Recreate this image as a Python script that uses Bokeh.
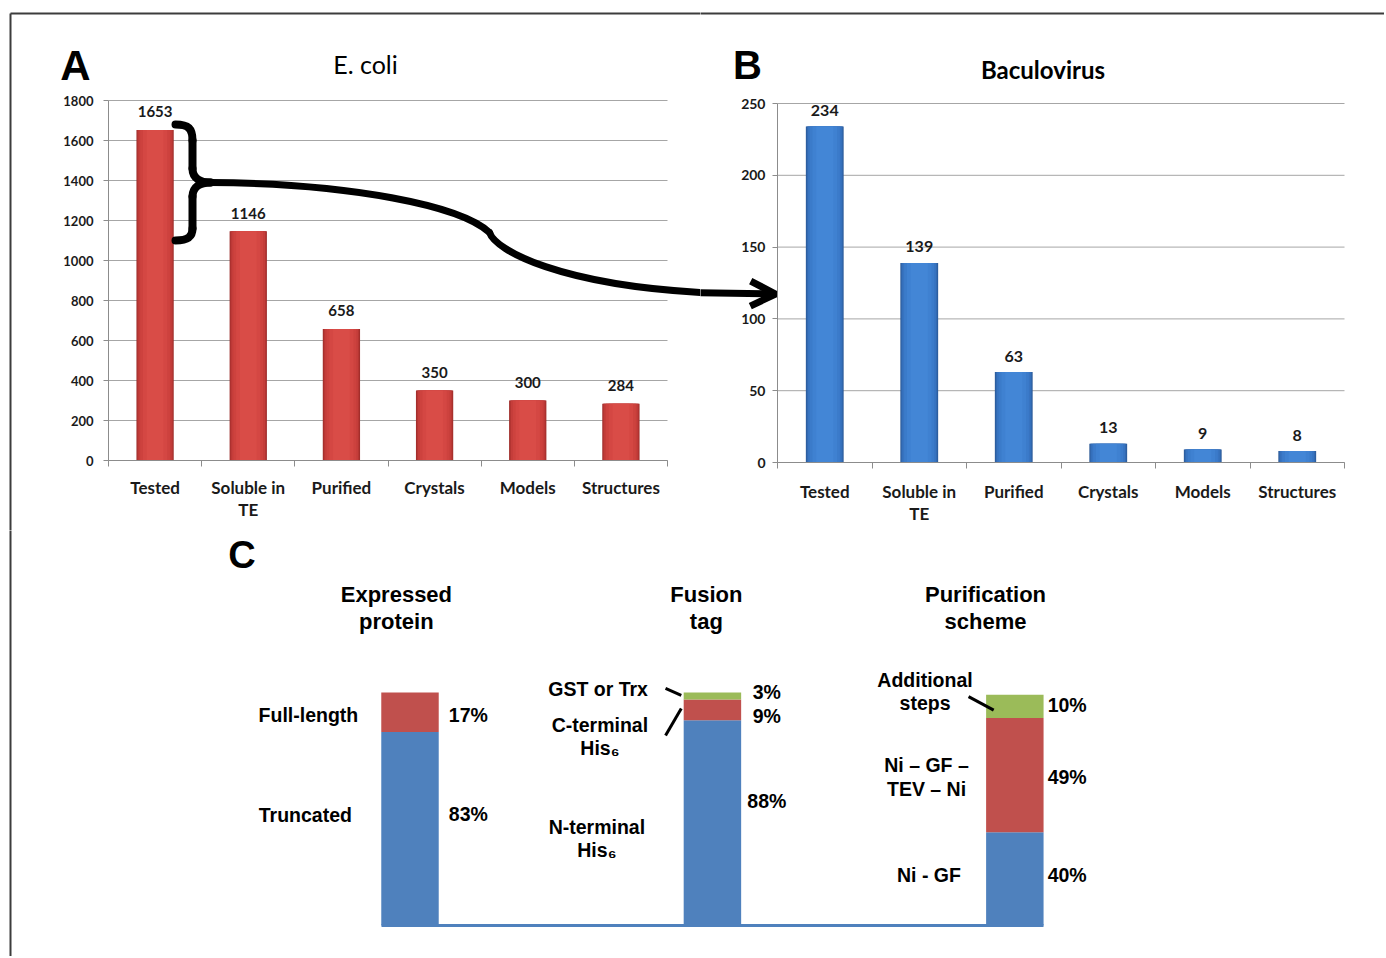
from bokeh.plotting import figure
from bokeh.models import Range1d, FixedTicker, Label, Arrow, OpenHead, ColumnDataSource
from bokeh.layouts import row, column
from bokeh.embed import file_html
from bokeh.resources import INLINE
from bokeh.core.properties import value

# ---------------- data ----------------
categories = ["Tested", "Soluble in\nTE", "Purified", "Crystals", "Models", "Structures"]
ecoli_counts = [1653, 1146, 658, 350, 300, 284]
baculo_counts = [234, 139, 63, 13, 9, 8]
ecoli_yticks = [0, 200, 400, 600, 800, 1000, 1200, 1400, 1600, 1800]
baculo_yticks = [0, 50, 100, 150, 200, 250]

c_panels = ["Expressed\nprotein", "Fusion\ntag", "Purification\nscheme"]
c_bottom = [83, 88, 40]   # blue segment
c_middle = [17, 9, 49]    # red segment
c_top = [0, 3, 10]        # green segment
c_pct_panel = [0, 0, 1, 1, 1, 2, 2, 2]
c_pct_values = [17, 83, 3, 9, 88, 10, 49, 40]
c_pct_y = [90.5, 48.0, 100.0, 89.7, 53.6, 94.8, 63.9, 21.5]
c_pct_dx = [0.193, 0.180, 0.173]          # label offset right of each bar
c_seg_names = ["Full-length", "Truncated", "GST or Trx", "C-terminal\nHis\u2086",
               "N-terminal\nHis\u2086", "Additional\nsteps", "Ni \u2013 GF \u2013\nTEV \u2013 Ni", "Ni - GF"]
c_seg_x = [-0.336, -0.346, 0.622, 0.628, 0.618, 1.703, 1.708, 1.716]
c_seg_y = [90.5, 47.2, 101.3, 81.1, 37.3, 100.4, 63.7, 21.5]
c_heading_x = [-0.045, 0.980, 1.903]
c_heading_y = [136.2, 136.2, 136.2]
c_leader_x0 = [0.845, 0.897, 1.847]
c_leader_y0 = [101.7, 93.1, 98.2]
c_leader_x1 = [0.897, 0.845, 1.930]
c_leader_y1 = [98.7, 81.5, 92.4]

BLUE, RED, GREEN = "#4F81BD", "#C0504D", "#9BBB59"
AXIS_GRAY = "#8c8c8c"
GRID_GRAY = "#a6a6a6"
TXT = "#1a1a1a"
FRAME_COL = "#3c3c3c"
RED_SHADES = ["#9c2c2a", "#b33532", "#c43d3a", "#cd423e", "#d44743", "#d94c47"]
BLUE_SHADES = ["#2a5896", "#3167ad", "#3773c0", "#3b7bca", "#3f81d1", "#4386d6"]
SHADE_WIDTHS = [0.40, 0.385, 0.36, 0.32, 0.26, 0.18]


class Geo:
    """Pixel geometry of one canvas: canvas box on the page and data->pixel mapping."""

    def __init__(self, cl, ct, cw, ch, x0, xpx, y0, ypx):
        self.cl, self.ct, self.cw, self.ch = cl, ct, cw, ch
        self.x0, self.xpx, self.y0, self.ypx = x0, xpx, y0, ypx

    def x(self, sx):
        return (sx - self.x0) / self.xpx

    def y(self, sy):
        return (self.y0 - sy) / self.ypx

    def fig(self):
        p = figure(title=None, frame_width=self.cw, frame_height=self.ch, min_border=0,
                   x_range=Range1d(self.x(self.cl), self.x(self.cl + self.cw)),
                   y_range=Range1d(self.y(self.ct + self.ch), self.y(self.ct)),
                   output_backend="svg", toolbar_location=None,
                   outline_line_color=None, background_fill_color="white",
                   border_fill_color="white")
        p.grid.visible = False
        return p


def bar_panel(g, counts, yticks, shades, tick_size, cat_size, val_size, val_off,
              cat_standoff, y_standoff):
    n = len(categories)
    pos = [i + 0.5 for i in range(n)]
    p = g.fig()
    xa = p.xaxis[0]
    xa.fixed_location = 0
    xa.bounds = (0, n)
    xa.ticker = FixedTicker(ticks=pos, minor_ticks=list(range(n + 1)))
    ov = {}
    for pp, c in zip(pos, categories):
        ov[pp] = c
        ov[str(pp)] = c
    xa.major_label_overrides = ov
    xa.major_tick_line_color = None
    xa.major_tick_out = 0
    xa.major_tick_in = 0
    xa.minor_tick_out = 6
    xa.minor_tick_in = 0
    xa.minor_tick_line_color = AXIS_GRAY
    xa.axis_line_color = AXIS_GRAY
    xa.major_label_standoff = cat_standoff
    xa.major_label_text_font = "Lato"
    xa.major_label_text_font_style = "bold"
    xa.major_label_text_font_size = cat_size
    xa.major_label_text_color = TXT
    xa.major_label_text_line_height = 1.05

    ya = p.yaxis[0]
    ya.fixed_location = 0
    ya.bounds = (0, yticks[-1])
    ya.ticker = FixedTicker(ticks=yticks)
    ya.major_tick_out = 5
    ya.major_tick_in = 0
    ya.minor_tick_line_color = None
    ya.major_tick_line_color = AXIS_GRAY
    ya.axis_line_color = AXIS_GRAY
    ya.major_label_standoff = y_standoff
    ya.major_label_text_font = "Lato"
    ya.major_label_text_font_style = "bold"
    ya.major_label_text_font_size = tick_size
    ya.major_label_text_color = TXT

    # horizontal gridlines across the plotting area only
    p.segment(x0=[0] * len(yticks), x1=[n] * len(yticks), y0=yticks, y1=yticks,
              line_color=GRID_GRAY, line_width=1, level="underlay")

    for w, col in zip(SHADE_WIDTHS, shades):
        p.vbar(x=pos, top=counts, width=w, fill_color=col, line_color=None)
    p.text(x=pos, y=counts, text=[str(c) for c in counts], text_align="center",
           text_baseline="middle", y_offset=-val_off, text_font=value("Lato"),
           text_font_style="bold", text_font_size=val_size, text_color=TXT)
    return p


def letter(p, g, sx, sy, txt, size, font="Liberation Sans", style="bold"):
    p.add_layout(Label(x=g.x(sx), y=g.y(sy), text=txt, text_align="center",
                       text_baseline="middle", text_font=font, text_font_style=style,
                       text_font_size=size, text_color="black"))


# ---------------- panel A ----------------
gA = Geo(0, 0, 700, 530, 108, 559 / len(categories), 460, 360 / ecoli_yticks[-1])
pA = bar_panel(gA, ecoli_counts, ecoli_yticks, RED_SHADES, "13px", "17px",
               "15px", 18, 10, 10)
letter(pA, gA, 75, 65, "A", "42px")
letter(pA, gA, 365, 63.5, "E. coli", "25px", font="Lato", style="normal")

# bracket + curved connector (decoration), control points in page pixels
bz = [
    (175, 124, 188, 124, 192, 128, 192, 140),
    (192, 168, 192, 178, 200, 182, 210, 182),
    (210, 182, 200, 182, 192, 186, 192, 196),
    (192, 228, 192, 236, 188, 240, 175, 240),
]
cz = [
    (210, 182, 350, 183, 460, 205, 489, 232),
    (489, 232, 495, 250, 560, 285, 706, 292.3),
]


def draw_bez(p, g, pieces, lw):
    p.bezier(x0=[g.x(b[0]) for b in pieces], y0=[g.y(b[1]) for b in pieces],
             cx0=[g.x(b[2]) for b in pieces], cy0=[g.y(b[3]) for b in pieces],
             cx1=[g.x(b[4]) for b in pieces], cy1=[g.y(b[5]) for b in pieces],
             x1=[g.x(b[6]) for b in pieces], y1=[g.y(b[7]) for b in pieces],
             line_color="black", line_width=lw, line_cap="round")


draw_bez(pA, gA, bz, 8)
pA.segment(x0=[gA.x(192)] * 2, y0=[gA.y(140), gA.y(196)],
           x1=[gA.x(192)] * 2, y1=[gA.y(168), gA.y(228)],
           line_color="black", line_width=8, line_cap="round")
draw_bez(pA, gA, cz, 7)

# ---------------- panel B ----------------
gB = Geo(700, 0, 684, 530, 777, 567 / len(categories), 462, 359 / baculo_yticks[-1])
pB = bar_panel(gB, baculo_counts, baculo_yticks, BLUE_SHADES, "14px", "17px",
               "16px", 16, 12, 7)
letter(pB, gB, 747, 64, "B", "40px")
letter(pB, gB, 1042.5, 68.7, "Baculovirus", "24px", font="Lato", style="bold")
pB.add_layout(Arrow(end=OpenHead(size=25, line_width=7, line_color="black"),
                    x_start=gB.x(695), y_start=gB.y(292.2), x_end=gB.x(775), y_end=gB.y(293.5),
                    line_color="black", line_width=7))

# ---------------- panel C ----------------
gC = Geo(0, 530, 1384, 426, 409.5, 302.42, 925, 2.3311)
pC = gC.fig()
pC.yaxis.visible = False
xc = pC.xaxis[0]
xc.fixed_location = 0
xc.ticker = FixedTicker(ticks=[])
xc.axis_line_color = BLUE
xc.axis_line_width = 3
bar_w = 0.19
xc.bounds = (-bar_w / 2, len(c_panels) - 1 + bar_w / 2)
xc.major_tick_line_color = None
xc.minor_tick_line_color = None
xc.major_label_text_font_size = "0px"

srcC = ColumnDataSource(dict(x=list(range(len(c_panels))), bottom=c_bottom,
                             middle=c_middle, top=c_top))
pC.vbar_stack(["bottom", "middle", "top"], x="x", width=bar_w, source=srcC,
              fill_color=[BLUE, RED, GREEN], line_color=None)

pC.text(x=c_heading_x, y=c_heading_y, text=c_panels, text_align="center",
        text_baseline="middle", text_font=value("Liberation Sans"), text_font_style="bold",
        text_font_size="22px", text_line_height=1.07, text_color="black")
pC.text(x=[i + c_pct_dx[i] for i in c_pct_panel], y=c_pct_y,
        text=[f"{v}%" for v in c_pct_values],
        text_align="center", text_baseline="middle", text_font=value("Liberation Sans"),
        text_font_style="bold", text_font_size="19.5px", text_color="black")
pC.text(x=c_seg_x, y=c_seg_y, text=c_seg_names, text_align="center",
        text_baseline="middle", text_font=value("Liberation Sans"), text_font_style="bold",
        text_font_size="19.5px", text_line_height=1.07, text_color="black")
pC.segment(x0=c_leader_x0, y0=c_leader_y0, x1=c_leader_x1, y1=c_leader_y1,
           line_color="black", line_width=3)
letter(pC, gC, 241.5, 554, "C", "38px")

# outer figure frame (top and left edges visible in the reference)
pA.segment(x0=[gA.x(10), gA.x(10)], y0=[gA.y(13), gA.y(13)],
           x1=[gA.x(720), gA.x(10)], y1=[gA.y(13), gA.y(560)],
           line_color=FRAME_COL, line_width=2)
pB.segment(x0=[gB.x(690)], y0=[gB.y(13)], x1=[gB.x(1400)], y1=[gB.y(13)],
           line_color=FRAME_COL, line_width=2)
pC.segment(x0=[gC.x(10)], y0=[gC.y(500)], x1=[gC.x(10)], y1=[gC.y(990)],
           line_color=FRAME_COL, line_width=2)

layout = column(row(pA, pB), pC)

open("out.html", "w").write(file_html(layout, INLINE))
